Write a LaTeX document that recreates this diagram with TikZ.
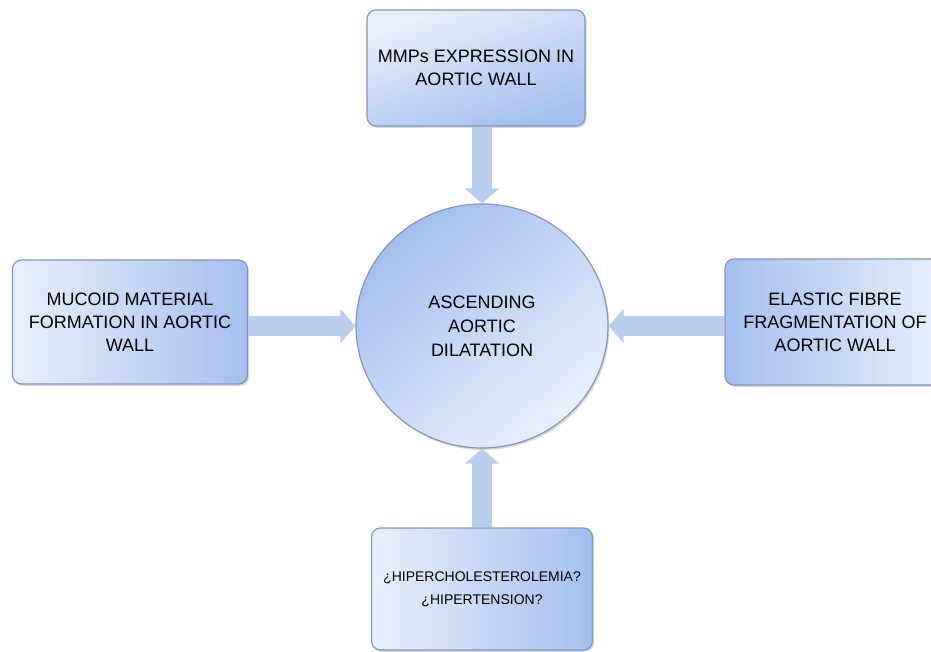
\documentclass[tikz,border=0pt]{standalone}
\usepackage{fontspec}
\setmainfont{Liberation Sans}
\usetikzlibrary{shapes.geometric,arrows.meta,shadows}
\definecolor{boxlight}{HTML}{E9F0FC}
\definecolor{boxdark}{HTML}{A4BFEE}
\definecolor{boxline}{HTML}{8096BA}
\definecolor{arrowfill}{HTML}{B9CDEC}

\begin{document}
\begin{tikzpicture}[>=latex,line join=bevel,
  cause/.style={draw=boxline,line width=1.2bp,rounded corners=9bp,align=center,inner sep=0pt,
    font=\fontsize{18bp}{23bp}\selectfont,
    drop shadow={shadow xshift=1.5bp,shadow yshift=-2bp,opacity=0.3}},
  effect/.style={ellipse,draw=boxline,line width=1.2bp,align=center,inner sep=0pt,
    font=\fontsize{18bp}{24bp}\selectfont,
    minimum width=252bp,minimum height=244bp,
    drop shadow={shadow xshift=1.5bp,shadow yshift=-2bp,opacity=0.3}},
  link/.style={draw=arrowfill,line width=20bp,-{Triangle[length=15bp,width=34bp]}},
]
%%
  \clip (0bp,0bp) rectangle (931bp,652bp);
  \node (dilat) at (482bp,326bp) [effect,shading=axis,top color=boxdark,bottom color=boxlight,shading angle=40]
    {ASCENDING\\AORTIC\\DILATATION};
  \node (mmps) at (476bp,584bp) [cause,minimum width=218bp,minimum height=116bp,
    shading=axis,top color=boxlight,bottom color=boxdark,shading angle=20]
    {MMPs EXPRESSION IN\\AORTIC WALL};
  \node (mucoid) at (130bp,330bp) [cause,minimum width=235bp,minimum height=124bp,
    left color=boxlight,right color=boxdark]
    {MUCOID MATERIAL\\FORMATION IN AORTIC\\WALL};
  \node (elastic) at (835bp,330bp) [cause,minimum width=220bp,minimum height=126bp,
    left color=boxdark,right color=boxlight]
    {ELASTIC FIBRE\\FRAGMENTATION OF\\AORTIC WALL};
  \node (hiper) at (482bp,63bp) [cause,minimum width=221bp,minimum height=122bp,
    left color=boxlight,right color=boxdark,font=\fontsize{14bp}{23bp}\selectfont]
    {¿HIPERCHOLESTEROLEMIA?\\¿HIPERTENSION?};
  \draw [link] (dilat.north |- mmps.south) -- (dilat.north);
  \draw [link] (mucoid.east |- dilat.west) -- (dilat.west);
  \draw [link] (elastic.west |- dilat.east) -- (dilat.east);
  \draw [link] (dilat.south |- hiper.north) -- (dilat.south);
%
\end{tikzpicture}
\end{document}
